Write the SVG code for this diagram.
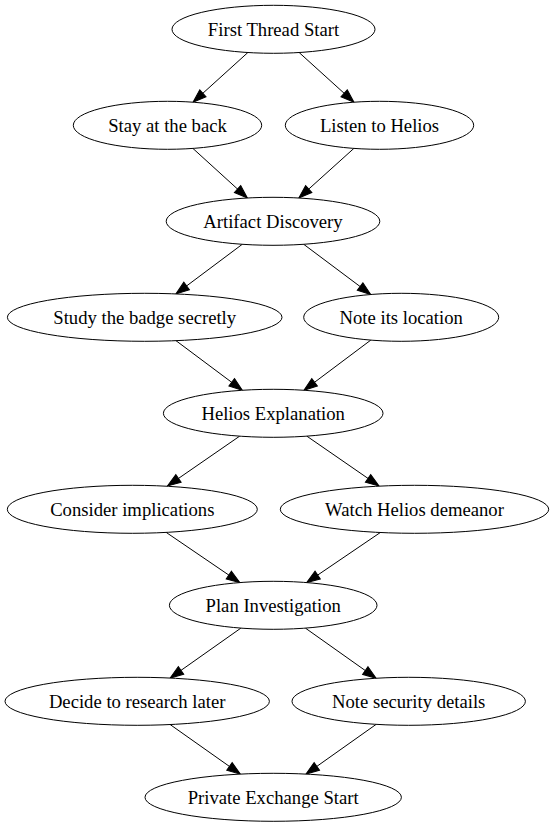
<svg xmlns="http://www.w3.org/2000/svg" width="554" height="827" viewBox="0 0 554 827">
<style>
.node ellipse{fill:#fff;stroke:#000;stroke-width:1}
.node text{font-family:"Liberation Serif","Times New Roman",serif;font-size:18.67px;fill:#000;text-anchor:middle}
#edges line{stroke:#000;stroke-width:1;marker-end:url(#arr)}
</style>
<defs>
<marker id="arr" markerUnits="userSpaceOnUse" markerWidth="16" markerHeight="12" refX="13.33" refY="4.67" orient="auto" overflow="visible">
<path d="M0,0 L13.33,4.67 L0,9.33 z" fill="#000" stroke="#000" stroke-width="1"/>
</marker>
</defs>
<rect width="554" height="827" fill="#fff"/>
<g id="edges">
<line x1="247.86" y1="52.52" x2="193.01" y2="102.19"/>
<line x1="299.14" y1="52.52" x2="353.99" y2="102.19"/>
<line x1="192.90" y1="148.41" x2="247.39" y2="198.0"/>
<line x1="353.88" y1="148.40" x2="298.83" y2="198.01"/>
<line x1="242.28" y1="244.29" x2="175.93" y2="293.93"/>
<line x1="303.70" y1="244.29" x2="370.75" y2="294.50"/>
<line x1="175.98" y1="340.67" x2="242.37" y2="390.27"/>
<line x1="370.80" y1="340.10" x2="303.92" y2="390.26"/>
<line x1="239.65" y1="436.16" x2="167.5" y2="486.0"/>
<line x1="306.83" y1="436.15" x2="379.0" y2="486.0"/>
<line x1="166.20" y1="532.40" x2="239.85" y2="582.58"/>
<line x1="380.33" y1="532.51" x2="306.64" y2="582.58"/>
<line x1="240.89" y1="628.11" x2="170.13" y2="678.06"/>
<line x1="305.41" y1="628.12" x2="376.17" y2="678.25"/>
<line x1="170.13" y1="724.54" x2="240.34" y2="774.11"/>
<line x1="376.17" y1="724.35" x2="305.95" y2="774.10"/>
</g>
<g id="n1" class="node"><ellipse cx="273.5" cy="29.3" rx="101.5" ry="24"/><text x="273.5" y="35.5">First Thread Start</text></g>
<g id="n2" class="node"><ellipse cx="167.5" cy="125.3" rx="94.2" ry="24"/><text x="167.5" y="131.5">Stay at the back</text></g>
<g id="n3" class="node"><ellipse cx="379.5" cy="125.3" rx="94.2" ry="24"/><text x="379.5" y="131.5">Listen to Helios</text></g>
<g id="n4" class="node"><ellipse cx="273" cy="221.3" rx="106.8" ry="24"/><text x="273" y="227.5">Artifact Discovery</text></g>
<g id="n5" class="node"><ellipse cx="144.7" cy="317.3" rx="137.3" ry="24"/><text x="144.7" y="323.5">Study the badge secretly</text></g>
<g id="n6" class="node"><ellipse cx="401.2" cy="317.3" rx="97.5" ry="24"/><text x="401.2" y="323.5">Note its location</text></g>
<g id="n7" class="node"><ellipse cx="273.2" cy="413.3" rx="109.8" ry="24"/><text x="273.2" y="419.5">Helios Explanation</text></g>
<g id="n8" class="node"><ellipse cx="132.3" cy="509.3" rx="125" ry="24"/><text x="132.3" y="515.5">Consider implications</text></g>
<g id="n9" class="node"><ellipse cx="414.5" cy="509.3" rx="134.2" ry="24"/><text x="414.5" y="515.5">Watch Helios demeanor</text></g>
<g id="n10" class="node"><ellipse cx="273.2" cy="605.3" rx="103.8" ry="24"/><text x="273.2" y="611.5">Plan Investigation</text></g>
<g id="n11" class="node"><ellipse cx="137.2" cy="701.3" rx="132.2" ry="24"/><text x="137.2" y="707.5">Decide to research later</text></g>
<g id="n12" class="node"><ellipse cx="408.7" cy="701.3" rx="116.7" ry="24"/><text x="408.7" y="707.5">Note security details</text></g>
<g id="n13" class="node"><ellipse cx="273.2" cy="797.3" rx="128.2" ry="24"/><text x="273.2" y="803.5">Private Exchange Start</text></g>
</svg>
